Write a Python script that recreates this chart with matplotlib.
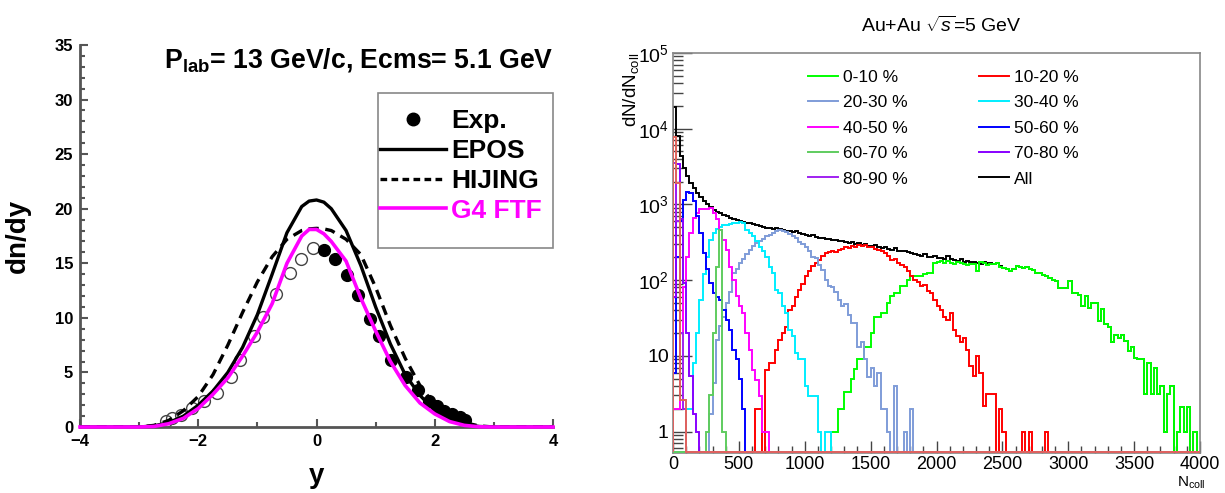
import numpy as np
import matplotlib
matplotlib.use("Agg")
import matplotlib.pyplot as plt
from matplotlib.lines import Line2D
from matplotlib.patches import Rectangle
from matplotlib.ticker import MultipleLocator, LogLocator, FixedLocator, NullFormatter, FixedFormatter

plt.rcParams['font.family'] = ['Liberation Sans', 'DejaVu Sans']
plt.rcParams['mathtext.fontset'] = 'custom'
plt.rcParams['mathtext.rm'] = 'Liberation Sans'
plt.rcParams['mathtext.it'] = 'Liberation Sans:italic'
plt.rcParams['mathtext.bf'] = 'Liberation Sans:bold'

# ---------------- left panel data ----------------
y_grid = [-4, -3, -2.75, -2.5, -2.25, -2, -1.75, -1.5, -1.25, -1, -0.75, -0.5, -0.25, -0.125,
          0, 0.125, 0.25, 0.5, 0.75, 1, 1.25, 1.5, 1.75, 2, 2.25, 2.5, 2.75, 3, 4]
epos = [0, 0, 0.1, 0.4, 1.0, 2.0, 3.3, 5.0, 7.3, 10.3, 14.0, 17.8, 20.2, 20.7,
        20.8, 20.6, 20.0, 18.0, 14.8, 11.0, 7.6, 4.8, 2.9, 1.5, 0.7, 0.25, 0.05, 0, 0]
hijing = [0, 0, 0.15, 0.6, 1.5, 2.8, 4.8, 7.5, 10.5, 13.3, 15.6, 17.2, 18.0, 18.15,
          18.2, 18.15, 18.0, 17.2, 15.8, 12.8, 9.3, 6.3, 3.8, 2.0, 1.0, 0.4, 0.1, 0, 0]
g4ftf = [0, 0, 0.05, 0.3, 0.8, 1.7, 3.0, 4.5, 6.5, 8.7, 11.3, 15.0, 17.5, 18.1,
         18.1, 17.7, 17.0, 15.2, 11.8, 8.8, 6.0, 3.8, 2.2, 1.2, 0.5, 0.15, 0.02, 0, 0]
exp_y_neg = [-0.06, -0.26, -0.45, -0.68, -0.9, -1.06, -1.29, -1.45, -1.68, -1.9, -2.1, -2.29, -2.45, -2.55]
exp_v_neg = [16.4, 15.4, 14.1, 12.2, 10.1, 8.3, 6.1, 4.6, 3.1, 2.4, 1.7, 1.1, 0.8, 0.55]
exp_y_pos = [0.13, 0.32, 0.52, 0.71, 0.9, 1.06, 1.26, 1.52, 1.71, 1.9, 2.03, 2.16, 2.29, 2.42, 2.52]
exp_v_pos = [16.2, 15.4, 13.9, 12.1, 9.9, 8.3, 6.1, 4.6, 3.4, 2.4, 1.9, 1.5, 1.2, 0.9, 0.6]
left_labels = ["Exp.", "EPOS", "HIJING", "G4 FTF"]

# ---------------- right panel data (bin width 25) ----------------
bin_width = 25
n_bins = 160
all_start = 0
all_vals = [19500, 8000, 4300, 3000, 2400, 1900, 1650, 1400, 1250, 1100,
            1000, 920, 850, 800, 760, 730, 700, 670, 650, 630,
            610, 590, 575, 560, 545, 530, 515, 505, 495, 485,
            480, 495, 470, 455, 445, 440, 430, 440, 415, 405,
            395, 385, 390, 370, 360, 365, 350, 345, 340, 335,
            325, 330, 318, 310, 315, 300, 310, 295, 300, 285,
            280, 290, 270, 265, 270, 258, 252, 262, 245, 240,
            245, 232, 228, 222, 216, 210, 220, 205, 200, 210,
            195, 198, 188, 208, 190, 184, 180, 190, 176, 180,
            172, 176, 168, 164, 174, 166]

c0010_start = 1200
c0010 = [1, 1, 2, 2, 3.3, 3.3, 4.9, 6.6, 9, 9,
         13, 13, 20, 33, 33, 37, 37, 50, 61, 68,
         68, 83, 83, 100, 112, 112, 115, 115, 120, 126,
         126, 170, 172, 177, 170, 177, 170, 165, 172, 168,
         165, 160, 162, 165, 130, 172, 168, 160, 165, 162,
         170, 150, 145, 140, 130, 140, 152, 150, 145, 148,
         140, 135, 126, 124, 117, 112, 107, 100, 96, 79,
         79, 79, 96, 68, 68, 64, 45, 61, 43, 50,
         50, 29, 41, 26, 24, 15, 19, 17, 19, 15.5,
         11.5, 13, 9.4, 9, 9, 3.1, 8.1, 3.1, 7, 3.1,
         4, 1, 3.1, 4, 0, 1, 2.1, 1, 2.1, 0, 1]

c1020_start = 625
c1020 = [2, 2, 0, 6.5, 8, 8, 12, 16, 20, 24,
         40, 45, 60, 75, 90, 112, 130, 152, 170, 186,
         210, 229, 235, 240, 238, 250, 255, 270, 262, 280,
         275, 294, 280, 290, 270, 272, 255, 250, 240, 225,
         210, 186, 190, 170, 160, 150, 130, 112, 100, 95,
         83, 85, 72, 68, 55, 45, 40, 33, 30, 37,
         22, 18, 15, 17, 12, 7.3, 5.4, 10, 6, 2.2,
         3.1, 3.1, 3.1, 0, 2, 1, 0, 0, 0, 0,
         0, 1, 0, 1, 0, 0, 0, 0, 1]

c2030_start = 275
c2030 = [1.7, 4.4, 16, 25, 33, 50, 70, 125, 140, 167,
         190, 220, 250, 280, 310, 330, 350, 380, 400, 420,
         440, 460, 440, 430, 410, 380, 360, 320, 300, 270,
         240, 200, 195, 160, 138, 100, 83, 80, 70, 55,
         45, 48, 35, 27, 27, 13, 15, 9, 5.3, 7,
         4, 6, 2, 2, 1, 0, 4, 0, 0, 1, 0, 2]

c3040_start = 100
c3040 = [2, 2, 8, 20, 55, 120, 200, 340, 420, 470,
         500, 540, 535, 545, 560, 575, 580, 560, 460, 420,
         380, 330, 277, 240, 205, 150, 124, 75, 68, 45,
         37, 22, 18, 11, 9, 9, 4, 2.9, 2.9, 2.9,
         1, 0, 1, 1]

c4050_start = 0
c4050 = [2, 2, 20, 80, 200, 420, 660, 770, 860, 880,
         870, 885, 780, 640, 465, 340, 250, 150, 100, 62,
         45, 37, 20, 12, 6.5, 4.8, 2.9, 1, 1]

c5060_start = 0
c5060 = [6, 200, 600, 1150, 1440, 1400, 1100, 700, 420, 230,
         140, 91, 67, 60, 55, 40, 30, 22, 12, 9, 5, 2]

c6070_start = 250
c6070 = [1, 3, 20, 150, 460, 1]

c7080_start = 0
c7080 = [60, 3400, 650, 92, 20, 5.4, 1.7, 1]

c8090_start = 0
c8090 = [3500, 600, 20, 2]

c90100_start = 0
c90100 = [7800, 1900, 2.6, 2.6]

class_labels = ["0-10 %", "10-20 %", "20-30 %", "30-40 %", "40-50 %",
                "50-60 %", "60-70 %", "70-80 %", "80-90 %", "All"]
class_colors = ["#00ff00", "#ff0000", "#7f9cd8", "#00eeff", "#ff00ff",
                "#0000ff", "#5fcc5f", "#8800ff", "#a020f0", "#000000"]
extra_color = "#e0645c"
right_yticks = [1, 10, 100, 1000, 10000, 100000]
right_yticklabels = ["1", "10", r"$10^{2}$", r"$10^{3}$", r"$10^{4}$", r"$10^{5}$"]


def full(start, vals):
    arr = np.zeros(n_bins)
    i = start // bin_width
    arr[i:i + len(vals)] = vals
    return arr


fig = plt.figure(figsize=(12.25, 4.93), dpi=100)

# ================= LEFT PANEL =================
ax1 = fig.add_axes([80 / 1225, 1 - 427 / 493, 473 / 1225, 382 / 493])
ax1.plot(exp_y_neg, exp_v_neg, 'o', mfc='none', mec='#444444', ms=8.5, mew=1.0, zorder=2)
ax1.plot(exp_y_pos, exp_v_pos, 'o', color='black', ms=8.5, zorder=2)
ax1.plot(y_grid, hijing, color='black', lw=2.4, ls=(0, (3, 2)), zorder=3)
ax1.plot(y_grid, epos, color='black', lw=2.4, zorder=3)
ax1.plot(y_grid, g4ftf, color='#ff00ff', lw=2.6, zorder=4, clip_on=False)
ax1.set_xlim(-4, 4)
ax1.set_ylim(0, 35)
for s in ['top', 'right']:
    ax1.spines[s].set_visible(False)
for s in ['left', 'bottom']:
    ax1.spines[s].set_color('#555555')
    ax1.spines[s].set_linewidth(2)
ax1.xaxis.set_major_locator(MultipleLocator(2))
ax1.xaxis.set_minor_locator(MultipleLocator(1))
ax1.yaxis.set_major_locator(MultipleLocator(5))
ax1.yaxis.set_minor_locator(MultipleLocator(1))
ax1.tick_params(which='both', direction='in', color='#555555', width=1.5)
ax1.tick_params(which='major', length=6, labelsize=12, pad=5)
ax1.tick_params(which='minor', length=3.5)
for lab in ax1.get_xticklabels() + ax1.get_yticklabels():
    lab.set_fontweight('bold')
ax1.set_xlabel('y', fontsize=20, fontweight='bold', labelpad=10)
ax1.set_ylabel('dn/dy', fontsize=20, fontweight='bold', labelpad=17)
ax1.text(1.0, 0.94, r"P$_{\mathbf{lab}}$= 13 GeV/c, Ecms= 5.1 GeV", transform=ax1.transAxes,
         ha='right', va='baseline', fontsize=19.2, fontweight='bold')
# legend frame
ax1.add_patch(Rectangle((0.630, 0.469), 0.370, 0.405, transform=ax1.transAxes,
                        fill=False, edgecolor='#888888', lw=1.2, clip_on=False, zorder=5))
h_left = [Line2D([], [], ls='none', marker='o', color='black', ms=9),
          Line2D([], [], color='black', lw=2.4),
          Line2D([], [], color='black', lw=2.4, ls=(0, (2, 1.3))),
          Line2D([], [], color='#ff00ff', lw=2.6)]
leg1 = ax1.legend(h_left, left_labels, loc='upper left', bbox_to_anchor=(0.634, 0.832),
                  prop={'weight': 'bold', 'size': 19}, frameon=False,
                  handlelength=2.5, handletextpad=0.2,
                  labelspacing=0.22, borderpad=0.0, borderaxespad=0.0)
leg1.texts[3].set_color('#ff00ff')

# ================= RIGHT PANEL =================
ymin = 0.52
ax2 = fig.add_axes([673 / 1225, 1 - 453 / 493, 527 / 1225, 400 / 493])
edges = np.arange(0, bin_width * n_bins + 1, bin_width)

classes = [full(c0010_start, c0010), full(c1020_start, c1020), full(c2030_start, c2030),
           full(c3040_start, c3040), full(c4050_start, c4050), full(c5060_start, c5060),
           full(c6070_start, c6070), full(c7080_start, c7080), full(c8090_start, c8090)]
extra = full(c90100_start, c90100)
all_arr = full(all_start, all_vals)
tail = len(all_vals)
all_arr[tail:] = np.sum(classes, axis=0)[tail:] + extra[tail:]

floor = ymin * 1.02


def draw(arr, color, z):
    vals = np.where(arr > 0, arr, floor)
    ax2.stairs(vals, edges, baseline=floor, color=color, lw=1.4, zorder=z)


draw(all_arr, class_colors[9], 2)
for k, arr in enumerate(classes):
    draw(arr, class_colors[k], 3 + k)
draw(extra, extra_color, 13)

ax2.set_xlim(0, 4000)
ax2.set_yscale('log')
ax2.set_ylim(ymin, 1e5)
for s in ax2.spines.values():
    s.set_color('#888888')
    s.set_linewidth(1.2)
ax2.xaxis.set_major_locator(MultipleLocator(500))
ax2.xaxis.set_minor_locator(MultipleLocator(100))
ax2.yaxis.set_major_locator(FixedLocator(right_yticks))
ax2.yaxis.set_major_formatter(FixedFormatter(right_yticklabels))
ax2.yaxis.set_minor_locator(LogLocator(base=10, subs=np.arange(2, 10)))
ax2.yaxis.set_minor_formatter(NullFormatter())
ax2.tick_params(which='both', direction='in', color='#444444', width=1.0)
ax2.tick_params(axis='x', which='major', length=9, labelsize=13, pad=2.5)
ax2.tick_params(axis='x', which='minor', length=5)
ax2.tick_params(axis='y', which='major', length=14, labelsize=14, pad=3)
ax2.tick_params(axis='y', which='minor', length=7)

ax2.text(-0.08, 1.0, r"dN/dN$_{\rm coll}$", transform=ax2.transAxes, rotation=90,
         ha='center', va='top', fontsize=13.5)
ax2.text(1.01, -0.053, r"N$_{\rm coll}$", transform=ax2.transAxes,
         ha='right', va='top', fontsize=11)
fig.text(941 / 1225, 1 - 26 / 493, r"Au+Au $\sqrt{s}$=5 GeV", ha='center', va='center', fontsize=14)

order = [0, 2, 4, 6, 8, 1, 3, 5, 7, 9]
h_right = [Line2D([], [], color=class_colors[i], lw=1.4) for i in order]
l_right = [class_labels[i] for i in order]
ax2.legend(h_right, l_right, ncol=2, loc='upper left', bbox_to_anchor=(0.256, 0.958),
           frameon=False, fontsize=12.5, handlelength=1.72, handletextpad=0.3,
           labelspacing=0.59, columnspacing=4.1, borderpad=0.0, borderaxespad=0.0)

fig.savefig('out.png', dpi=100)
